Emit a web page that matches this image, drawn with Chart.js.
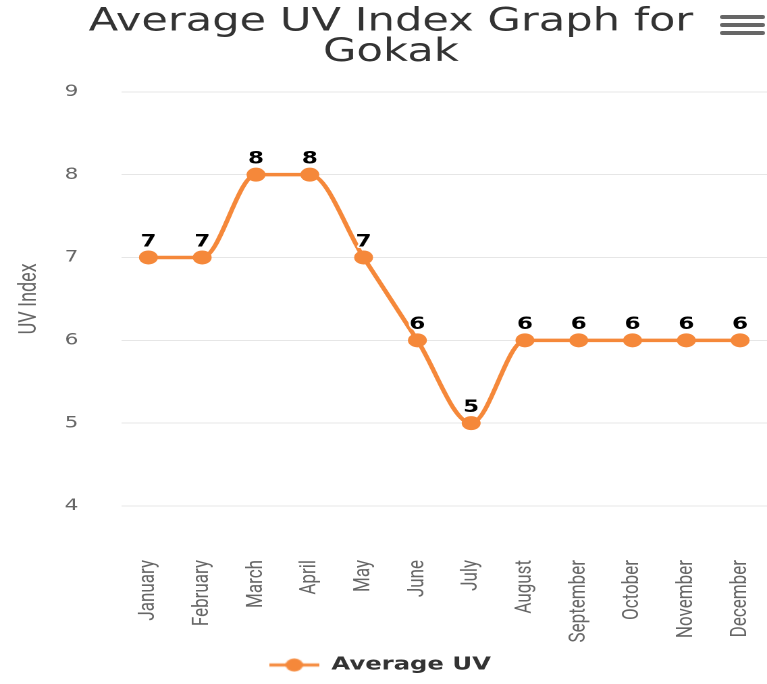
<!DOCTYPE html>
<html>
<head>
<meta charset="utf-8">
<script src="https://cdn.jsdelivr.net/npm/chart.js@4"></script>
<style>
  html, body { margin: 0; padding: 0; background: #fff; }
  #wrap { position: relative; width: 767px; height: 684px; }
  #menu { position: absolute; left: 720px; top: 15px; width: 45px; }
  #menu div { height: 4px; background: #666; border-radius: 2px; margin-bottom: 4px; }
</style>
</head>
<body>
<div id="wrap">
  <!-- the reference is stretched sideways, so the canvas is drawn narrow and shown wide -->
  <canvas id="uvChart" width="568" height="684" style="width:767px;height:684px"></canvas>
  <div id="menu"><div></div><div></div><div></div></div>
</div>
<script>
const months = ['January', 'February', 'March', 'April', 'May', 'June', 'July', 'August', 'September', 'October', 'November', 'December'];
const avgUV = [7, 7, 8, 8, 7, 6, 5, 6, 6, 6, 6, 6];
const yMin = 4;
const yMax = 9;
const seriesName = 'Average UV';
const chartTitle = ['Average UV Index Graph for', 'Gokak'];
const orange = '#f5883a';

// legend symbol: line through the marker
const legendSym = document.createElement('canvas');
legendSym.width = 37; legendSym.height = 14;
let lctx = legendSym.getContext('2d');
lctx.strokeStyle = orange;
lctx.fillStyle = orange;
lctx.lineWidth = 3;
lctx.beginPath();
lctx.moveTo(0, 7); lctx.lineTo(37, 7);
lctx.stroke();
lctx.beginPath();
lctx.arc(18.5, 7, 6.5, 0, Math.PI * 2);
lctx.fill();

const valueLabels = {
    id: 'valueLabels',
    afterDatasetsDraw(chart) {
        const ctx = chart.ctx;
        const meta = chart.getDatasetMeta(0);
        ctx.save();
        ctx.font = 'bold 17px "DejaVu Sans"';
        ctx.textAlign = 'center';
        ctx.textBaseline = 'bottom';
        ctx.lineJoin = 'round';
        meta.data.forEach((pt, i) => {
            const txt = String(chart.data.datasets[0].data[i]);
            ctx.strokeStyle = '#fff';
            ctx.lineWidth = 3;
            ctx.strokeText(txt, pt.x, pt.y - 7);
            ctx.fillStyle = '#000';
            ctx.fillText(txt, pt.x, pt.y - 7);
        });
        ctx.restore();
    }
};

// nudge the legend a little left, as in the picture
const legendShift = {
    id: 'legendShift',
    afterLayout(chart) {
        chart.legend.left -= 8;
        chart.legend.right -= 8;
    }
};

const ctx = document.getElementById('uvChart').getContext('2d');
let uvChart = new Chart(ctx, {
    type: 'line',
    data: {
        labels: months,
        datasets: [{
            label: seriesName,
            data: avgUV,
            borderColor: orange,
            backgroundColor: orange,
            borderWidth: 3.5,
            cubicInterpolationMode: 'monotone',
            pointStyle: 'circle',
            pointRadius: 7,
            pointBorderWidth: 0,
            fill: false
        }]
    },
    options: {
        responsive: false,
        animation: false,
        devicePixelRatio: 2,
        layout: { autoPadding: false, padding: { left: 7, right: -4, top: 7, bottom: 0 } },
        scales: {
            x: {
                offset: true,
                grid: { display: false },
                border: { display: false },
                afterFit: (scale) => {
                    scale.paddingLeft = 0;
                    scale.paddingRight = 0;
                    scale.height = 140;
                },
                ticks: {
                    maxRotation: 90,
                    minRotation: 90,
                    padding: 46,
                    color: '#666',
                    font: { family: 'Roboto', size: 17 }
                }
            },
            y: {
                min: yMin,
                max: yMax,
                grid: { color: '#e6e6e6', drawTicks: false },
                border: { display: false },
                afterFit: (scale) => {
                    scale.width = 83;
                },
                ticks: {
                    stepSize: 1,
                    padding: 32,
                    color: '#666',
                    font: { family: '"DejaVu Sans"', size: 16 }
                },
                title: {
                    display: true,
                    text: 'UV Index',
                    color: '#666',
                    padding: { top: 4, bottom: 15 },
                    font: { family: 'Roboto', size: 18 }
                }
            }
        },
        plugins: {
            title: {
                display: true,
                text: chartTitle,
                color: '#333',
                padding: { top: 0, bottom: 24 },
                font: { family: '"DejaVu Sans"', size: 32, weight: 'normal', lineHeight: 0.95 }
            },
            legend: {
                position: 'bottom',
                labels: {
                    usePointStyle: true,
                    pointStyle: legendSym,
                    pointStyleWidth: 37,
                    color: '#333',
                    padding: 10,
                    font: { family: '"DejaVu Sans"', size: 18, weight: 'bold' }
                }
            },
            tooltip: { enabled: false }
        }
    },
    plugins: [valueLabels, legendShift]
});
</script>
</body>
</html>
